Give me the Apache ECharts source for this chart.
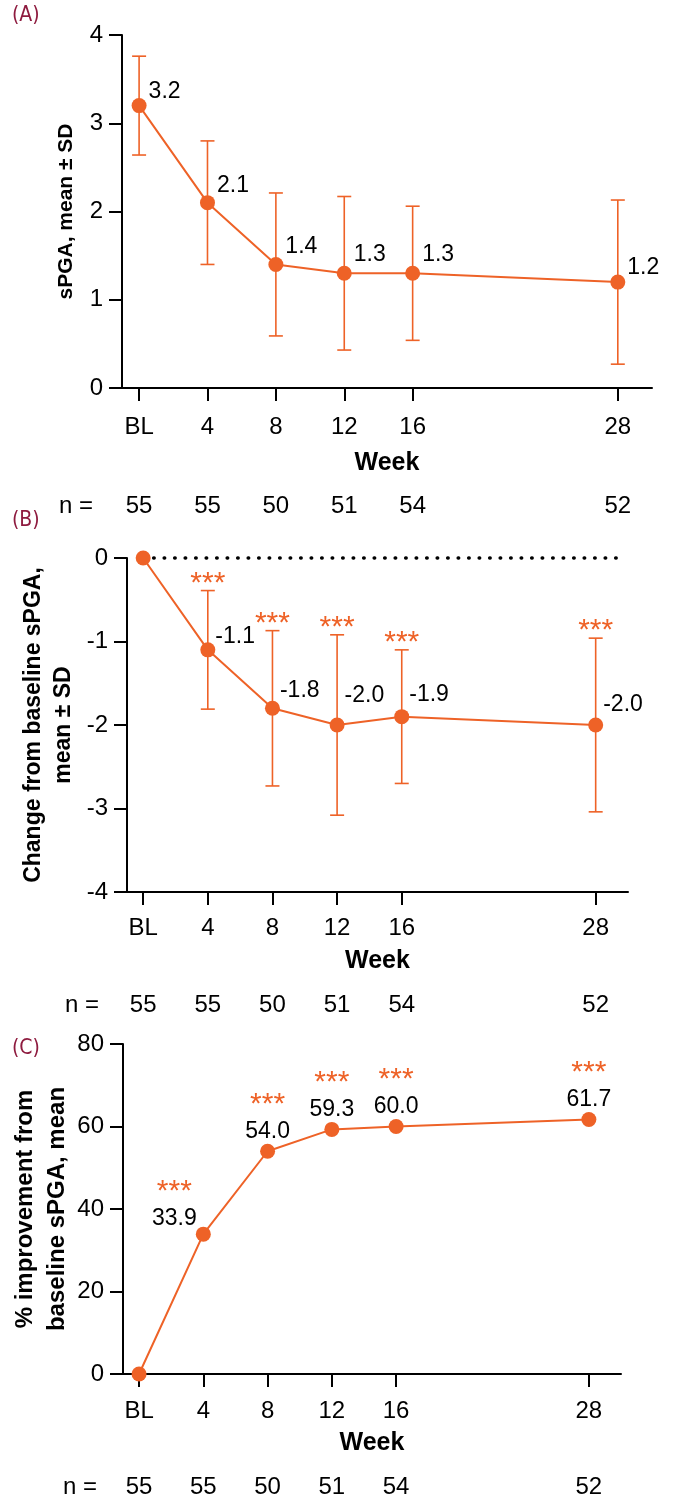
<!DOCTYPE html>
<html>
<head>
<meta charset="utf-8">
<script src="https://cdn.jsdelivr.net/npm/echarts@6/dist/echarts.min.js"></script>
<style>
  html, body { margin: 0; padding: 0; background: #fff; }
  #chart { width: 673px; height: 1507px; }
</style>
</head>
<body>
<div id="chart"></div>
<script>
// Visit schedule (weeks) and tick labels
const weeks = [0, 4, 8, 12, 16, 28];
const weekLabels = ['BL', '4', '8', '12', '16', '28'];
const nCounts = [55, 55, 50, 51, 54, 52];

// (A) sPGA, mean and SD
const sPGAMean = [3.2, 2.1, 1.4, 1.3, 1.3, 1.2];
const sPGASD = [0.56, 0.70, 0.81, 0.87, 0.76, 0.93];

// (B) change from baseline sPGA, mean and SD
const changeMean = [0, -1.1, -1.8, -2.0, -1.9, -2.0];
const changeSD = [0, 0.71, 0.93, 1.08, 0.80, 1.04];
const changeSig = ['', '***', '***', '***', '***', '***'];

// (C) % improvement from baseline sPGA, mean
const improvementMean = [0, 33.9, 54.0, 59.3, 60.0, 61.7];
const improvementSig = ['', '***', '***', '***', '***', '***'];

// label nudges (pixels) per point
const labelLiftA = [-14, -17, -18, -19, -19, -14];
const labelLiftB = [0, -13, -18, -29, -22, -20];
const labelShiftC = [[0, 0], [-29, 4], [0, 0], [0, 0], [0, 0], [0, 0]];

const ORANGE = '#EE6227';
const FONT = '"Liberation Sans", Arial, Helvetica, sans-serif';
const LETTER_FONT = '"DejaVu Sans Condensed", "Liberation Sans Narrow", sans-serif';
const LETTER = '#8E1B3F';

const chart = echarts.init(document.getElementById('chart'), null, { renderer: 'canvas' });

const grids = [
  { left: 122, top: 35, width: 530, height: 353, outerBoundsMode: 'none', containLabel: false },
  { left: 127, top: 558, width: 501, height: 334, outerBoundsMode: 'none', containLabel: false },
  { left: 123, top: 1044, width: 498, height: 330, outerBoundsMode: 'none', containLabel: false }
];
const tickMargin = [27, 24, 25];
const nRowOffset = [118, 113, 113];
const nNameGap = [29, 28, 26];
const weekNameGap = [63, 57, 57];

function mainXAxis(g) {
  return {
    gridIndex: g, type: 'value', min: -1, max: 30,
    axisLine: { show: true, onZero: false, lineStyle: { color: '#000', width: 2 } },
    axisTick: { show: true, length: 13, customValues: weeks, lineStyle: { color: '#000', width: 2 } },
    axisLabel: {
      customValues: weeks, margin: tickMargin[g], fontSize: 24, color: '#000', fontFamily: FONT,
      formatter: v => weekLabels[weeks.indexOf(Number(v))]
    },
    splitLine: { show: false },
    name: 'Week', nameLocation: 'middle', nameGap: weekNameGap[g], nameMoveOverlap: false,
    nameTextStyle: { fontSize: 25, fontWeight: 'bold', color: '#000', fontFamily: FONT }
  };
}

function countXAxis(g) {
  return {
    gridIndex: g, type: 'value', min: -1, max: 30, position: 'bottom', offset: nRowOffset[g],
    axisLine: { show: false, onZero: false },
    axisTick: { show: false },
    axisLabel: {
      customValues: weeks, margin: 0, verticalAlign: 'middle', fontSize: 24, color: '#000', fontFamily: FONT,
      formatter: v => String(nCounts[weeks.indexOf(Number(v))])
    },
    splitLine: { show: false },
    name: 'n =', nameLocation: 'start', nameGap: nNameGap[g], nameMoveOverlap: false,
    nameTextStyle: { fontSize: 24, color: '#000', fontFamily: FONT }
  };
}

function yAxis(g, min, max, interval, name, gap, fontSize, lineHeight) {
  return {
    gridIndex: g, type: 'value', min, max, interval,
    axisLine: { show: true, onZero: false, lineStyle: { color: '#000', width: 2 } },
    axisTick: { show: true, length: 13, lineStyle: { color: '#000', width: 2 } },
    axisLabel: { margin: 19, fontSize: 24, color: '#000', fontFamily: FONT },
    splitLine: { show: false },
    name, nameLocation: 'middle', nameGap: gap, nameMoveOverlap: false,
    nameTextStyle: { fontSize, fontWeight: 'bold', color: '#000', fontFamily: FONT, lineHeight }
  };
}

// vertical SD bars with caps; optional significance stars above the upper cap
function errorBars(sig) {
  return function (params, api) {
    const x = api.value(0);
    const loV = api.value(1), hiV = api.value(2);
    const lo = api.coord([x, loV]);
    const hi = api.coord([x, hiV]);
    const half = 7;
    const style = { stroke: ORANGE, lineWidth: 1.6 };
    const children = [];
    if (hiV !== loV) {
      children.push(
        { type: 'line', shape: { x1: hi[0], y1: hi[1], x2: lo[0], y2: lo[1] }, style },
        { type: 'line', shape: { x1: hi[0] - half, y1: hi[1], x2: hi[0] + half, y2: hi[1] }, style },
        { type: 'line', shape: { x1: lo[0] - half, y1: lo[1], x2: lo[0] + half, y2: lo[1] }, style }
      );
    }
    const s = sig && sig[params.dataIndex];
    if (s) {
      children.push({
        type: 'text',
        style: {
          text: s, x: hi[0], y: hi[1] - 7, align: 'center', verticalAlign: 'middle',
          fill: ORANGE, fontSize: 30, fontFamily: FONT
        }
      });
    }
    return { type: 'group', children };
  };
}

const barsA = weeks.map((w, i) => [w, sPGAMean[i] - sPGASD[i], sPGAMean[i] + sPGASD[i]]);
const barsB = weeks.map((w, i) => [w, changeMean[i] - changeSD[i], changeMean[i] + changeSD[i]]);

const pointStyle = {
  type: 'line', symbol: 'circle', symbolSize: 15, clip: false, z: 5,
  lineStyle: { color: ORANGE, width: 2 }, itemStyle: { color: ORANGE }
};

const seriesA = Object.assign({}, pointStyle, {
  xAxisIndex: 0, yAxisIndex: 0,
  data: weeks.map((w, i) => ({ value: [w, sPGAMean[i]], label: { offset: [0, labelLiftA[i]] } })),
  label: {
    show: true, position: 'right', distance: 2, fontSize: 23, color: '#000', fontFamily: FONT,
    formatter: p => p.value[1].toFixed(1)
  }
});

const seriesB = Object.assign({}, pointStyle, {
  xAxisIndex: 2, yAxisIndex: 1,
  data: weeks.map((w, i) => ({
    value: [w, changeMean[i]],
    label: { show: changeMean[i] !== 0, offset: [0, labelLiftB[i]] }
  })),
  label: {
    show: true, position: 'right', distance: 0, fontSize: 23, color: '#000', fontFamily: FONT,
    formatter: p => p.value[1].toFixed(1)
  }
});

const seriesC = Object.assign({}, pointStyle, {
  xAxisIndex: 4, yAxisIndex: 2,
  data: weeks.map((w, i) => ({
    value: [w, improvementMean[i]],
    label: { show: improvementMean[i] !== 0, offset: labelShiftC[i] }
  })),
  label: {
    show: true, position: 'top', distance: 0, fontFamily: FONT,
    formatter: p => '{s|' + improvementSig[p.dataIndex] + '}\n{v|' + p.value[1].toFixed(1) + '}',
    rich: {
      s: { fontSize: 30, lineHeight: 30, color: ORANGE, fontFamily: FONT, align: 'center' },
      v: { fontSize: 23, lineHeight: 24, color: '#000', fontFamily: FONT, align: 'center' }
    }
  }
});

const option = {
  animation: false,
  backgroundColor: '#fff',
  textStyle: { fontFamily: FONT },
  grid: grids,
  xAxis: [mainXAxis(0), countXAxis(0), mainXAxis(1), countXAxis(1), mainXAxis(2), countXAxis(2)],
  yAxis: [
    yAxis(0, 0, 4, 1, 'sPGA, mean ± SD', 41, 21, 30),
    yAxis(1, -4, 0, 1, 'Change from baseline sPGA,\nmean ± SD', 48, 23, 30),
    yAxis(2, 0, 80, 20, '% improvement from\nbaseline sPGA, mean', 50, 24, 32)
  ],
  graphic: [
    { type: 'text', left: 12, top: 5, style: { text: '(A)', fill: LETTER, fontSize: 21, fontFamily: LETTER_FONT } },
    { type: 'text', left: 12, top: 510, style: { text: '(B)', fill: LETTER, fontSize: 21, fontFamily: LETTER_FONT } },
    { type: 'text', left: 12, top: 1038, style: { text: '(C)', fill: LETTER, fontSize: 21, fontFamily: LETTER_FONT } }
  ],
  series: [
    { type: 'custom', xAxisIndex: 0, yAxisIndex: 0, z: 2, renderItem: errorBars(null), data: barsA, clip: false },
    seriesA,
    {
      type: 'custom', xAxisIndex: 2, yAxisIndex: 1, z: 2, renderItem: errorBars(changeSig), data: barsB, clip: false,
      markLine: {
        silent: true, symbol: 'none', label: { show: false },
        lineStyle: { color: '#000', width: 3.5, type: [0.5, 10], cap: 'round' },
        data: [[{ coord: [0, 0] }, { coord: [29.5, 0] }]]
      }
    },
    seriesB,
    seriesC
  ]
};

chart.setOption(option);
</script>
</body>
</html>
